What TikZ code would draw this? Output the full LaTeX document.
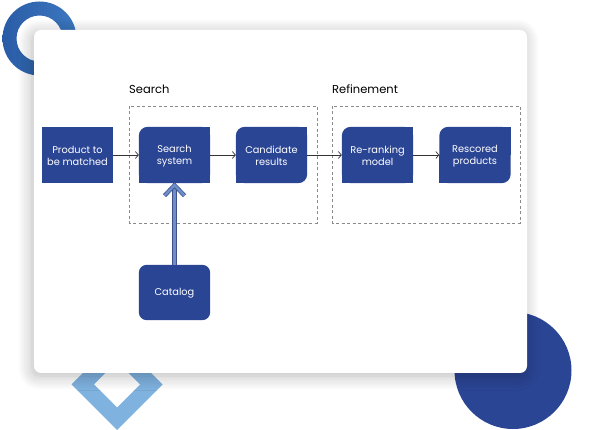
\documentclass[tikz,border=0pt]{standalone}
\usepackage{fontspec}
\setmainfont{Poppins}
\usetikzlibrary{arrows.meta,shadows.blur,calc}
\definecolor{boxblue}{HTML}{2B4595}
\definecolor{ringA}{HTML}{2A5CA6}
\definecolor{ringB}{HTML}{3C78C0}
\definecolor{diamondblue}{HTML}{80B2E0}
\definecolor{arrowdark}{HTML}{3E5286}
\definecolor{arrowlight}{HTML}{6E8DCB}
\definecolor{dashgray}{HTML}{8A8A8A}
\definecolor{linegray}{HTML}{333333}
\tikzset{
  x=1pt, y=-1pt,
  proc/.style={minimum width=71pt, minimum height=56pt, inner sep=0pt,
    text=white, align=center, font=\fontsize{9.8}{11.8}\selectfont},
  proctext/.style={proc, yshift=-1pt},
  grouplabel/.style={anchor=base west, inner sep=0pt, font=\fontsize{11.5}{13}\selectfont, text=black},
  groupbox/.style={draw=dashgray, dash pattern=on 3pt off 2.5pt, line width=0.7pt},
  flow/.style={draw=linegray, line width=0.7pt, -{Straight Barb[length=3pt,width=7pt,line width=0.7pt]}},
}
\begin{document}
\begin{tikzpicture}
\useasboundingbox (0,0) rectangle (595,430);
% decorations behind the card
\shade[left color=ringA, right color=ringB, even odd rule] (39.5,38.5) circle[radius=37] (39.5,38.5) circle[radius=23];
\fill[diamondblue, even odd rule] (117,339) -- (162.5,384.5) -- (117,430) -- (71.5,384.5) -- cycle
  (117,361.5) -- (140,384.5) -- (117,407.5) -- (94,384.5) -- cycle;
\fill[boxblue] (513,370.5) circle[radius=58.5];
% card
\fill[white, rounded corners=7pt, blur shadow={shadow blur steps=14, shadow xshift=-2pt, shadow yshift=-3pt, shadow blur radius=14pt, shadow opacity=28}]
  (34,30) rectangle (527,373);
% group frames and labels
\draw[groupbox] (129,106) rectangle (317,223);
\draw[groupbox] (332,106) rectangle (520,223);
\node[grouplabel] (lsearch) at (129,94) {Search};
\node[grouplabel] (lrefine) at (332,94) {Refinement};
% nodes (text nodes; backgrounds drawn below)
\coordinate (cprod) at (77.5,155);
\coordinate (csys) at (174.5,155);
\coordinate (ccand) at (271.5,155);
\coordinate (crr) at (377.5,155);
\coordinate (cres) at (475,155);
\coordinate (ccat) at (174.5,292.5);
\node[proc] (prod) at (cprod) {};
\node[proc] (sys) at (csys) {};
\node[proc] (cand) at (ccand) {};
\node[proc] (rr) at (crr) {};
\node[proc] (res) at (cres) {};
\node[proc, minimum height=55pt] (cat) at (ccat) {};
% backgrounds
\fill[boxblue] (prod.south west) rectangle (prod.north east);
\foreach \n in {sys,rr}{
  \fill[boxblue, rounded corners=9pt] (\n.south west) rectangle (\n.north east);
  \fill[boxblue] (\n.center) rectangle (\n.north east);
  \fill[boxblue] (\n.south west) rectangle (\n.east);
}
\foreach \n in {cand,res}{
  \fill[boxblue, rounded corners=9pt] (\n.south west) rectangle (\n.north east);
  \fill[boxblue] (\n.center) rectangle (\n.north east);
  \fill[boxblue] (\n.south west) rectangle (\n.center);
}
\fill[boxblue, rounded corners=8pt] (cat.south west) rectangle (cat.north east);
% texts
\node[proctext] (tprod) at (prod) {Product to\\be matched};
\node[proctext] (tsys) at (sys) {Search\\system};
\node[proctext] (tcand) at (cand) {Candidate\\results};
\node[proctext] (trr) at (rr) {Re-ranking\\model};
\node[proctext] (tres) at (res) {Rescored\\products};
\node[proctext] (tcat) at (cat) {Catalog};
% flow arrows
\draw[flow] (prod.east) -- (sys.west);
\draw[flow] (sys.east) -- (cand.west);
\draw[flow] (cand.east) -- (rr.west);
\draw[flow] (rr.east) -- (res.west);
% catalog arrow (double line with open chevron)
\draw[draw=arrowdark, line width=0.8pt, double=arrowlight, double distance=2.6pt] (cat.north) -- ($(sys.south)+(0,2)$);
\draw[draw=arrowdark, line width=0.8pt, double=arrowlight, double distance=2.6pt, line join=miter]
  ($(sys.south)+(-10,12.5)$) -- ($(sys.south)+(0,2)$) -- ($(sys.south)+(10,12.5)$);
\end{tikzpicture}
\end{document}
